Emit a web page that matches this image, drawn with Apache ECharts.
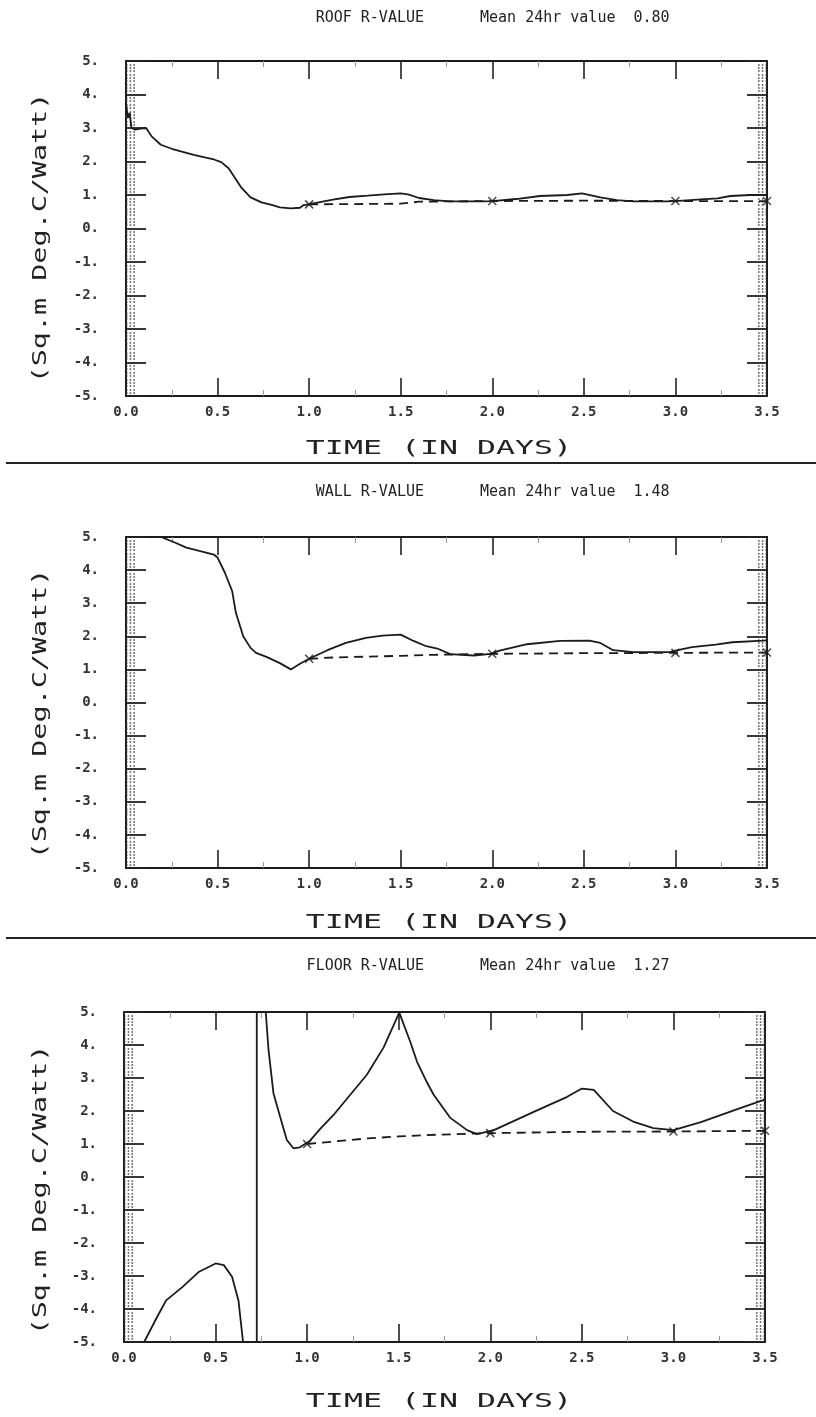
<!DOCTYPE html>
<html><head><meta charset="utf-8">
<script src="https://cdn.jsdelivr.net/npm/echarts@6/dist/echarts.min.js"></script>
<style>html,body{margin:0;padding:0;background:#fff}#c{width:816px;height:1417px}</style>
</head><body><div id="c"></div><script>
// ---------- DATA ----------
const panelNames = ['ROOF R-VALUE', 'WALL R-VALUE', 'FLOOR R-VALUE'];
const meanLabels = ['0.80', '1.48', '1.27'];
const xTitle = 'TIME (IN DAYS)';
const yTitle = '(Sq.m Deg.C/Watt)';
const xTickLabels = ['0.0', '0.5', '1.0', '1.5', '2.0', '2.5', '3.0', '3.5'];
const yTickLabels = ['-5.', '-4.', '-3.', '-2.', '-1.', '0.', '1.', '2.', '3.', '4.', '5.'];

const roofDays = [0.00, 0.01, 0.02, 0.03, 0.05, 0.08, 0.11, 0.14, 0.19, 0.25, 0.30, 0.37, 0.43, 0.48, 0.52, 0.56, 0.59, 0.63, 0.68, 0.74, 0.80, 0.84, 0.90, 0.95, 0.97, 1.00, 1.03, 1.13, 1.22, 1.32, 1.41, 1.50, 1.54, 1.60, 1.68, 1.77, 1.95, 2.00, 2.13, 2.26, 2.41, 2.49, 2.59, 2.68, 2.77, 2.95, 3.00, 3.14, 3.23, 3.30, 3.41, 3.50];
const roofValues = [3.75, 3.30, 3.45, 3.00, 2.95, 2.98, 3.00, 2.75, 2.50, 2.38, 2.30, 2.20, 2.12, 2.06, 1.98, 1.80, 1.55, 1.22, 0.93, 0.78, 0.70, 0.63, 0.60, 0.62, 0.70, 0.72, 0.76, 0.86, 0.94, 0.98, 1.02, 1.05, 1.02, 0.91, 0.85, 0.81, 0.81, 0.82, 0.88, 0.97, 1.00, 1.05, 0.93, 0.85, 0.81, 0.81, 0.82, 0.87, 0.90, 0.97, 1.00, 1.00];
const roofMeanDays = [1.00, 1.25, 1.50, 1.60, 2.00, 2.50, 3.00, 3.50];
const roofMeanValues = [0.72, 0.73, 0.74, 0.80, 0.82, 0.83, 0.82, 0.82];

const wallDays = [0.20, 0.26, 0.33, 0.40, 0.48, 0.50, 0.54, 0.58, 0.60, 0.64, 0.68, 0.71, 0.77, 0.84, 0.90, 0.95, 1.00, 1.10, 1.20, 1.31, 1.40, 1.50, 1.57, 1.64, 1.70, 1.77, 1.90, 1.99, 2.04, 2.19, 2.37, 2.53, 2.59, 2.66, 2.77, 2.97, 3.00, 3.09, 3.22, 3.31, 3.48, 3.50];
const wallValues = [4.98, 4.85, 4.68, 4.58, 4.47, 4.38, 3.92, 3.36, 2.71, 2.00, 1.65, 1.50, 1.37, 1.19, 1.00, 1.17, 1.32, 1.58, 1.80, 1.95, 2.02, 2.05, 1.86, 1.70, 1.63, 1.46, 1.42, 1.47, 1.57, 1.76, 1.86, 1.87, 1.80, 1.58, 1.52, 1.52, 1.57, 1.67, 1.75, 1.82, 1.87, 1.88];
const wallMeanDays = [1.00, 1.13, 1.50, 1.68, 2.00, 2.50, 3.00, 3.50];
const wallMeanValues = [1.32, 1.36, 1.41, 1.44, 1.47, 1.49, 1.50, 1.51];

const floorDays = [0.11, 0.18, 0.23, 0.32, 0.41, 0.50, 0.545, 0.59, 0.625, 0.645, 0.65, 0.725, 0.725, 0.774, 0.789, 0.816, 0.852, 0.889, 0.925, 0.96, 1.016, 1.07, 1.144, 1.326, 1.417, 1.503, 1.563, 1.60, 1.654, 1.69, 1.78, 1.873, 1.927, 2.02, 2.24, 2.42, 2.50, 2.565, 2.67, 2.78, 2.89, 3.00, 3.15, 3.33, 3.49, 3.50];
const floorValues = [-5.00, -4.25, -3.74, -3.33, -2.87, -2.62, -2.67, -3.02, -3.74, -4.75, -5.00, -5.00, 5.00, 5.00, 3.86, 2.54, 1.83, 1.12, 0.87, 0.90, 1.10, 1.45, 1.88, 3.10, 3.92, 4.98, 4.10, 3.49, 2.87, 2.50, 1.80, 1.42, 1.30, 1.42, 1.98, 2.43, 2.68, 2.64, 2.00, 1.68, 1.48, 1.42, 1.66, 2.02, 2.33, 2.35];
const floorMeanDays = [1.00, 1.33, 1.50, 1.70, 2.00, 2.50, 3.00, 3.50];
const floorMeanValues = [1.00, 1.17, 1.23, 1.28, 1.33, 1.37, 1.38, 1.40];

const markDays = [1.0, 2.0, 3.0, 3.5];

const solidDays = [roofDays, wallDays, floorDays];
const solidValues = [roofValues, wallValues, floorValues];
const meanDays = [roofMeanDays, wallMeanDays, floorMeanDays];
const meanValues = [roofMeanValues, wallMeanValues, floorMeanValues];

// ---------- LAYOUT ----------
const gridTops = [61, 537, 1012];
const gridHeights = [335, 331, 330];
const gridLefts = [126, 126, 124];
const gridWidth = 641;
const titleY = [18, 492, 966];
const xTitleY = [449, 923, 1402];
const yTitleY = [238, 714, 1190];
const sepY = [463, 938];

const ink = '#1b1b1b';
const mono = 'DejaVu Sans Mono';

const grids = [], xAxes = [], yAxes = [], series = [], graphics = [];
for (let i = 0; i < 3; i++) {
  grids.push({left: gridLefts[i], top: gridTops[i], width: gridWidth, height: gridHeights[i], containLabel: false});
  for (const pos of ['bottom', 'top']) {
    xAxes.push({
      type: 'value', gridIndex: i, position: pos, min: 0, max: 3.5, interval: 0.5,
      axisLine: {show: true, onZero: false, lineStyle: {color: ink, width: 2}},
      axisTick: {show: true, inside: true, length: 18, lineStyle: {color: '#222', width: 1.6}},
      minorTick: {show: true, splitNumber: 2, length: 6, lineStyle: {color: '#999', width: 1}},
      axisLabel: {show: pos === 'bottom', margin: 9, fontFamily: mono, fontSize: 14, fontWeight: 'bold', color: '#333',
        formatter: v => xTickLabels[Math.round(v / 0.5)]},
      splitLine: {show: false}
    });
  }
  for (const pos of ['left', 'right']) {
    yAxes.push({
      type: 'value', gridIndex: i, position: pos, min: -5, max: 5, interval: 1,
      axisLine: {show: true, onZero: false, lineStyle: {color: ink, width: 2}},
      axisTick: {show: true, inside: true, length: 20, lineStyle: {color: '#222', width: 1.8}},
      minorTick: {show: true, splitNumber: 10, length: 10, lineStyle: {color: '#444', width: 1.5, type: [1.5, 2.2]}},
      axisLabel: {show: pos === 'left', margin: 27, fontFamily: mono, fontSize: 14, fontWeight: 'bold', color: '#333',
        formatter: v => yTickLabels[Math.round(v + 5)]},
      splitLine: {show: false}
    });
  }
  const solid = solidDays[i].map((d, k) => [d, solidValues[i][k]]);
  const mean = meanDays[i].map((d, k) => [d, meanValues[i][k]]);
  const marks = markDays.map(d => mean.find(p => Math.abs(p[0] - d) < 1e-9)).filter(Boolean);
  series.push({type: 'line', xAxisIndex: 2 * i, yAxisIndex: 2 * i, data: solid, showSymbol: false, symbol: 'none',
    clip: true, lineStyle: {color: ink, width: 1.8}, z: 3});
  series.push({type: 'line', xAxisIndex: 2 * i, yAxisIndex: 2 * i, data: mean, showSymbol: false, symbol: 'none',
    clip: true, lineStyle: {color: ink, width: 1.8, type: [9, 6]}, z: 3});
  series.push({type: 'scatter', xAxisIndex: 2 * i, yAxisIndex: 2 * i, data: marks,
    symbol: 'path://M0 0L10 10M10 0L0 10', symbolSize: 8,
    itemStyle: {color: 'rgba(0,0,0,0)', borderColor: ink, borderWidth: 1.5}, z: 4});

  // titles
  graphics.push({type: 'text', x: 424, y: titleY[i], style: {text: panelNames[i], font: '15px "DejaVu Sans Mono"', fill: '#222', align: 'right', verticalAlign: 'middle'}});
  graphics.push({type: 'text', x: 480, y: titleY[i], style: {text: 'Mean 24hr value  ' + meanLabels[i], font: '15px "DejaVu Sans Mono"', fill: '#222', align: 'left', verticalAlign: 'middle'}});
  // axis titles
  graphics.push({type: 'text', x: 439, y: xTitleY[i], scaleX: 1.58, style: {text: xTitle, font: '20px "DejaVu Sans Mono"', fill: '#222', align: 'center', verticalAlign: 'middle'}});
  graphics.push({type: 'text', x: 41, y: yTitleY[i], rotation: Math.PI / 2, scaleX: 1.42, style: {text: yTitle, font: '20px "DejaVu Sans Mono"', fill: '#222', align: 'center', verticalAlign: 'middle'}});
}
for (const y of sepY) {
  graphics.push({type: 'line', shape: {x1: 6, y1: y, x2: 816, y2: y}, style: {stroke: '#222', lineWidth: 2}});
}

const chart = echarts.init(document.getElementById('c'), null, {renderer: 'canvas'});
chart.setOption({
  animation: false,
  backgroundColor: '#fff',
  grid: grids, xAxis: xAxes, yAxis: yAxes, series: series, graphic: graphics
});
</script></body></html>
